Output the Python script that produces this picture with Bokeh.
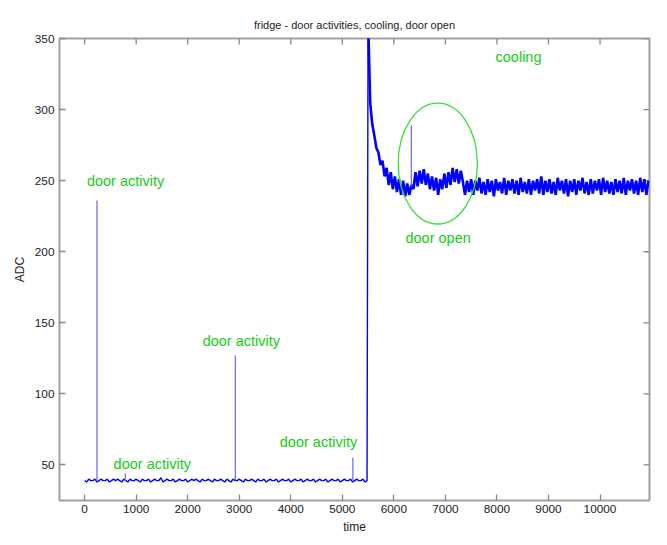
from bokeh.plotting import figure
from bokeh.models import FixedTicker, Range1d, Label
from bokeh.embed import file_html
from bokeh.resources import INLINE
import numpy as np

# ---- data ----
base_start, base_step = 0, 40
base_values = [
    39, 38, 40, 39, 39, 40, 38, 39, 40, 39,
    39, 40, 38, 39, 40, 39, 40, 39, 38, 40,
    39, 38, 40, 39, 39, 40, 39, 38, 40, 39,
    39, 40, 38, 39, 40, 39, 39, 41, 38, 39,
    40, 39, 39, 40, 38, 39, 40, 39, 39, 40,
    38, 39, 40, 39, 40, 39, 38, 40, 39, 39,
    40, 39, 38, 40, 39, 39, 40, 39, 38, 40,
    39, 38, 40, 39, 39, 40, 39, 38, 40, 39,
    39, 40, 39, 38, 40, 39, 39, 40, 38, 39,
    40, 39, 39, 40, 38, 39, 40, 39, 39, 40,
    38, 39, 40, 39, 39, 40, 38, 39, 40, 39,
    39, 40, 38, 39, 40, 39, 39, 40, 38, 39,
    40, 39, 39, 40, 38, 39, 40, 39, 39, 40,
    38, 39, 40, 39, 39, 40, 38, 39,
]
cool_start, cool_step = 5500, 40
cool_values = [
    365, 305, 290, 282, 273, 270, 261, 264, 253, 259,
    247, 256, 244, 253, 242, 251, 240, 250, 239, 248,
    240, 247, 244, 256, 246, 257, 248, 258, 247, 255,
    244, 253, 243, 252, 240, 251, 244, 255, 245, 256,
    247, 259, 249, 258, 248, 257, 249, 240, 250,
    242, 251, 240, 250, 243, 252, 241, 249, 240, 251,
    242, 250, 239, 251, 243, 249, 241, 252, 240, 250,
    243, 251, 241, 250, 240, 252, 242, 249, 241, 251,
    240, 250, 243, 251, 241, 253, 240, 250, 242, 251,
    241, 249, 240, 252, 243, 250, 241, 251, 239, 250,
    242, 251, 240, 250, 243, 252, 241, 249, 240, 251,
    241, 250, 243, 251, 240, 252, 242, 250, 241, 249,
    240, 251, 242, 250, 241, 252, 240, 250, 243, 251,
    241, 250, 240, 252, 242, 251, 240, 250,
]
# single-sample spikes (time, from, to)
spike_t = [240, 790, 2925, 5205, 6340]
spike_from = [39, 39, 39, 39, 246]
spike_to = [236, 44, 127, 55, 289]

# annotations
labels = ["door activity", "door activity", "door activity", "door activity", "door open", "cooling"]
label_t = [45, 2290, 563, 3787, 6225, 7973]
label_v = [250, 137, 51, 66, 210, 337]
ellipse_t, ellipse_v, ellipse_w, ellipse_h = 6852, 262, 1535, 85

x_ticks = [0, 1000, 2000, 3000, 4000, 5000, 6000, 7000, 8000, 9000, 10000]
y_ticks = [50, 100, 150, 200, 250, 300, 350]

X_MIN, X_MAX, Y_MIN, Y_MAX = -487, 10960, 25, 350

t_base = base_start + base_step * np.arange(len(base_values))
t_cool = cool_start + cool_step * np.arange(len(cool_values))
t = np.concatenate([t_base, t_cool])
v = np.array(base_values + cool_values)
n_base = len(base_values)

FONT = "Liberation Sans"
GREEN = "#15cc15"
BLUE = "#0000ff"
FRAME = "#a0a0a0"
TICK = "#888888"

W, H = 659, 537
B_LEFT, B_RIGHT, B_TOP, B_BOTTOM = 59, 10, 38, 37
p = figure(width=W, height=H, output_backend="svg", toolbar_location=None,
           x_range=Range1d(X_MIN, X_MAX), y_range=Range1d(Y_MIN, Y_MAX),
           title="fridge - door activities, cooling, door open",
           min_border_left=B_LEFT, min_border_right=B_RIGHT,
           min_border_top=B_TOP, min_border_bottom=B_BOTTOM)
p.background_fill_color = "white"
p.border_fill_color = "white"
p.outline_line_color = FRAME
p.outline_line_width = 2
p.xgrid.visible = False
p.ygrid.visible = False

p.title.align = "center"
p.title.text_font = FONT
p.title.text_font_size = "11px"
p.title.text_font_style = "normal"
p.title.text_color = "#222222"
p.title.standoff = 16

xax = p.below[0]
yax = p.left[0]
xax.ticker = FixedTicker(ticks=x_ticks)
yax.ticker = FixedTicker(ticks=y_ticks)
for ax in [xax, yax]:
    ax.axis_line_color = None
    ax.major_tick_in = 6
    ax.major_tick_out = 0
    ax.major_tick_line_color = TICK
    ax.major_tick_line_width = 1.3
    ax.minor_tick_line_color = None
    ax.major_label_text_font = FONT
    ax.major_label_text_font_size = "11.8px"
    ax.major_label_text_color = "#222222"
    ax.major_label_standoff = 5
    ax.axis_label_text_font = FONT
    ax.axis_label_text_font_size = "12px"
    ax.axis_label_text_font_style = "normal"
    ax.axis_label_text_color = "#222222"
xax.major_label_standoff = 4
xax.axis_label = "time"
xax.axis_label_standoff = 4
yax.axis_label = "ADC"
yax.axis_label_standoff = 5

# mirrored inward ticks on top and right edges (6 px long)
px_per_v = (H - B_TOP - B_BOTTOM) / (Y_MAX - Y_MIN)
px_per_t = (W - B_LEFT - B_RIGHT) / (X_MAX - X_MIN)
tick_len_y = 6 / px_per_v
tick_len_x = 6 / px_per_t
p.segment(x0=x_ticks, y0=[Y_MAX] * len(x_ticks), x1=x_ticks, y1=[Y_MAX - tick_len_y] * len(x_ticks),
          line_color=TICK, line_width=1.3)
p.segment(x0=[X_MAX] * len(y_ticks), y0=y_ticks, x1=[X_MAX - tick_len_x] * len(y_ticks), y1=y_ticks,
          line_color=TICK, line_width=1.3)

# the series: quiet baseline (incl. the jump), then the noisy cooling part
p.line(t[:n_base + 1], v[:n_base + 1], line_color=BLUE, line_width=1.4)
p.line(t[n_base:], v[n_base:], line_color=BLUE, line_width=2.6)
p.segment(x0=spike_t, y0=spike_from, x1=spike_t, y1=spike_to,
          line_color="#6f6fff", line_width=1.3)

p.ellipse(x=[ellipse_t], y=[ellipse_v], width=[ellipse_w], height=[ellipse_h],
          fill_color=None, line_color="#33e033", line_width=1.3)

for txt, lx, ly in zip(labels, label_t, label_v):
    p.add_layout(Label(x=lx, y=ly, text=txt, text_font=FONT, text_font_size="14.5px",
                       text_color=GREEN, text_baseline="middle", text_align="left"))

open("out.html", "w").write(file_html(p, INLINE))
